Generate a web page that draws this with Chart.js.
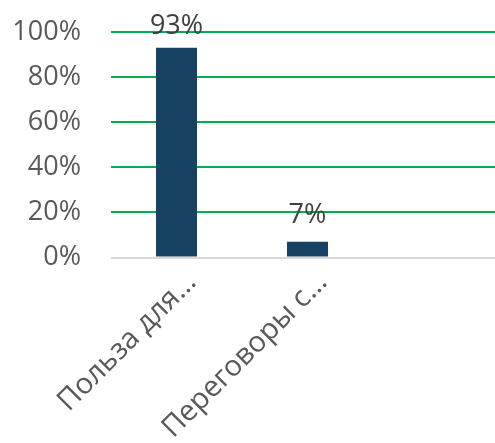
<!DOCTYPE html>
<html>
<head>
<meta charset="utf-8">
<script src="https://cdn.jsdelivr.net/npm/chart.js@4"></script>
<style>
  html, body { margin: 0; padding: 0; background: #fff; overflow: hidden; }
  #chart { display: block; }
</style>
</head>
<body>
<canvas id="chart" width="505" height="443"></canvas>
<script>
// categories (third slot is empty in the original)
const categories = ["Польза для…", "Переговоры с…", ""];
const shares = [93, 7, null];
const yTicks = [0, 20, 40, 60, 80, 100];

const fontFamily = "'Open Sans', 'Noto Sans', sans-serif";

// draws the value on top of each bar
const valueLabels = {
    id: "valueLabels",
    afterDatasetsDraw(chart) {
        const ctx = chart.ctx;
        const meta = chart.getDatasetMeta(0);
        ctx.save();
        ctx.font = "27px " + fontFamily;
        ctx.fillStyle = "#404040";
        ctx.textAlign = "center";
        ctx.textBaseline = "alphabetic";
        meta.data.forEach((bar, i) => {
            if (shares[i] == null) return;
            const y = Math.max(bar.y - 19, 34);
            ctx.fillText(shares[i] + "%", bar.x, y);
        });
        ctx.restore();
    }
};

const chart1 = document.getElementById("chart");
new Chart(chart1, {
    type: "bar",
    data: {
        labels: categories,
        datasets: [{
            data: shares,
            backgroundColor: "#174263",
            categoryPercentage: 1,
            barPercentage: 0.313
        }]
    },
    options: {
        responsive: false,
        animation: false,
        devicePixelRatio: 1,
        layout: { padding: { top: 32, right: 1, left: 0, bottom: 0 } },
        plugins: {
            legend: { display: false },
            tooltip: { enabled: false }
        },
        scales: {
            x: {
                afterFit(scale) {
                    scale.height = 185.5;
                    scale.paddingLeft = 0;
                    scale.paddingRight = 0;
                },
                grid: { display: false },
                border: { display: false },
                ticks: {
                    minRotation: 45,
                    maxRotation: 45,
                    autoSkip: false,
                    padding: 0,
                    labelOffset: 15,
                    color: "#595959",
                    font: { family: fontFamily, size: 29 }
                }
            },
            y: {
                min: 0,
                max: 100,
                afterFit(scale) {
                    scale.width = 111;
                    scale.paddingTop = 0;
                    scale.paddingBottom = 0;
                },
                afterBuildTicks(scale) {
                    scale.ticks = yTicks.map(v => ({ value: v }));
                },
                border: { display: false },
                grid: {
                    drawTicks: false,
                    lineWidth: 2,
                    color: ctx => ctx.tick && ctx.tick.value === 0 ? "#D9D9D9" : "#00B050"
                },
                ticks: {
                    padding: 30,
                    color: "#595959",
                    font: { family: fontFamily, size: 27 },
                    callback: v => v + "%"
                }
            }
        }
    },
    plugins: [valueLabels]
});
</script>
</body>
</html>
